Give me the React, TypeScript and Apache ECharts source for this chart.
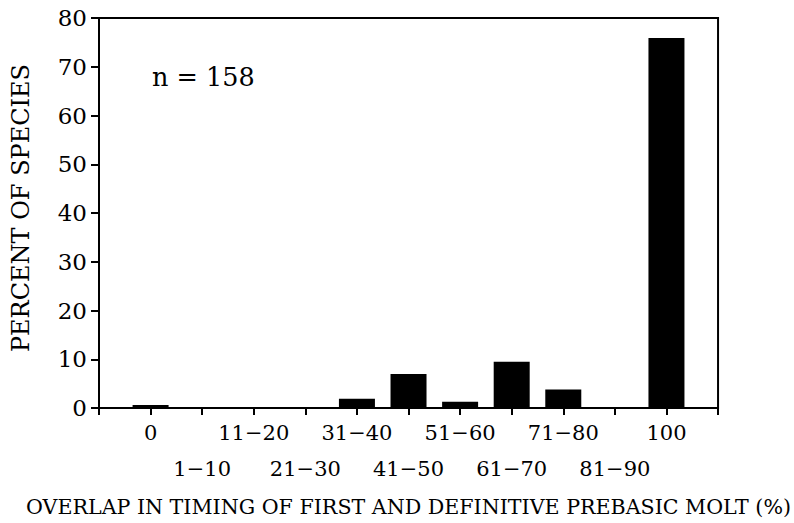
import React, { useEffect, useRef } from "react";
import * as echarts from "echarts";

const categories = ["0", "1−10", "11−20", "21−30", "31−40", "41−50", "51−60", "61−70", "71−80", "81−90", "100"];
const percentOfSpecies = [0.6, 0, 0, 0, 1.9, 7.0, 1.3, 9.5, 3.8, 0, 75.9];
const sampleLabel = "n = 158";
const yTitle = "PERCENT OF SPECIES";
const xTitle = "OVERLAP IN TIMING OF FIRST AND DEFINITIVE PREBASIC MOLT (%)";

const FONT = "DejaVu Serif";

export default function App() {
  const ref = useRef<HTMLDivElement>(null);
  useEffect(() => {
    if (!ref.current) return;
    const chart = echarts.init(ref.current, null, { renderer: "svg" });
    const labelFor = (row: number) => (v: number) => {
      const i = Math.round(v) - 1;
      if (i < 0 || i >= categories.length) return "";
      return i % 2 === row ? categories[i] : "";
    };
    chart.setOption({
      animation: false,
      backgroundColor: "#fff",
      grid: {
        left: 99,
        top: 18,
        right: 74,
        bottom: 115,
        show: true,
        borderColor: "#000",
        borderWidth: 2,
        backgroundColor: "transparent",
      },
      xAxis: [
        {
          type: "value",
          min: 0,
          max: 12,
          interval: 1,
          position: "bottom",
          splitLine: { show: false },
          axisLine: { show: true, onZero: false, lineStyle: { color: "#000", width: 2 } },
          axisTick: { show: true, length: 7, lineStyle: { color: "#000", width: 2 } },
          axisLabel: {
            formatter: labelFor(0),
            color: "#000",
            fontFamily: FONT,
            fontSize: 21,
            lineHeight: 21,
            margin: 14,
            showMinLabel: true,
            showMaxLabel: true,
          },
          name: xTitle,
          nameLocation: "middle",
          nameGap: 88,
          nameTextStyle: { color: "#000", fontFamily: FONT, fontSize: 20.6 },
        },
        {
          type: "value",
          min: 0,
          max: 12,
          interval: 1,
          position: "bottom",
          offset: 36,
          splitLine: { show: false },
          axisLine: { show: false },
          axisTick: { show: false },
          axisLabel: {
            formatter: labelFor(1),
            color: "#000",
            fontFamily: FONT,
            fontSize: 21,
            lineHeight: 21,
            margin: 14,
          },
        },
      ],
      yAxis: {
        type: "value",
        min: 0,
        max: 80,
        interval: 10,
        splitLine: { show: false },
        axisLine: { show: true, lineStyle: { color: "#000", width: 2 } },
        axisTick: { show: true, length: 8, lineStyle: { color: "#000", width: 2 } },
        axisLabel: { color: "#000", fontFamily: FONT, fontSize: 23, margin: 12 },
      },
      graphic: [
        {
          type: "text",
          left: 152,
          top: 64,
          style: { text: sampleLabel, fill: "#000", font: `25.5px "${FONT}"` },
        },
        {
          type: "text",
          x: 21,
          y: 208,
          rotation: Math.PI / 2,
          style: {
            text: yTitle,
            fill: "#000",
            font: `24px "${FONT}"`,
            align: "center",
            verticalAlign: "middle",
          },
        },
      ],
      series: [
        {
          type: "bar",
          xAxisIndex: 0,
          barWidth: 36,
          itemStyle: { color: "#000" },
          data: percentOfSpecies.map((v, i) => [i + 1, v]),
        },
      ],
    });
    return () => chart.dispose();
  }, []);
  return (
    <div
      ref={ref}
      style={{ position: "fixed", left: 0, top: 0, width: 794, height: 523, background: "#fff" }}
    />
  );
}
